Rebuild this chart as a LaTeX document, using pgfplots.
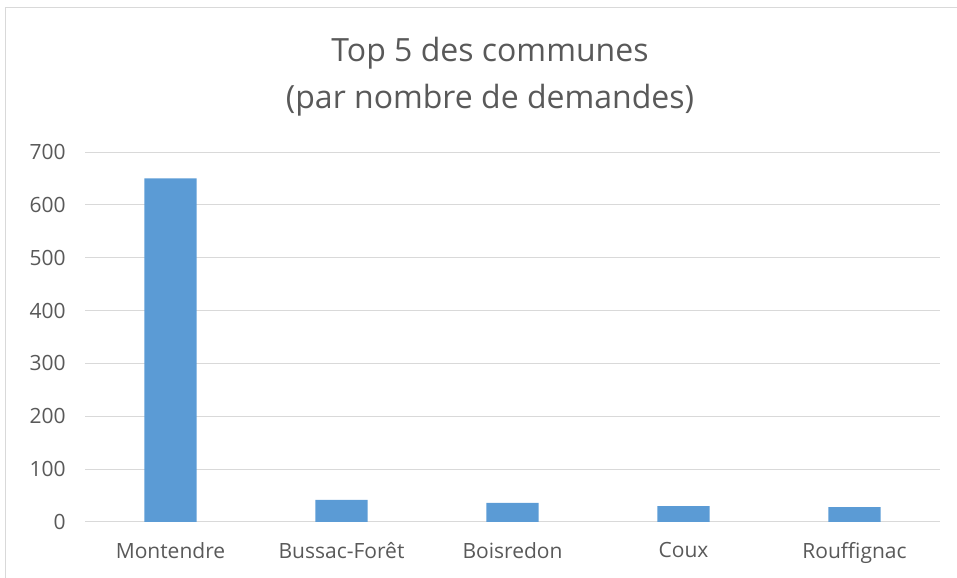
\documentclass[border=0pt]{standalone}
\usepackage{pgfplots}
\pgfplotsset{compat=1.18}
\usepackage{fontspec}
\setmainfont{Open Sans}
\definecolor{barblue}{HTML}{5B9BD5}
\definecolor{gridgray}{HTML}{D9D9D9}
\definecolor{txtgray}{HTML}{595959}
\begin{document}
\begin{tikzpicture}
\useasboundingbox (0,0) rectangle (717.75pt,433.5pt);
\draw[gridgray, line width=0.75pt] (3.75pt,0) -- (3.75pt,427.5pt) -- (717.75pt,427.5pt);
\node[anchor=base, text=txtgray, font=\fontsize{24}{28}\selectfont] at (367.5pt,387pt) {Top 5 des communes};
\node[anchor=base, text=txtgray, font=\fontsize{24}{28}\selectfont] at (367.5pt,351.75pt) {(par nombre de demandes)};
\begin{axis}[
  at={(63.75pt,42pt)}, anchor=south west,
  scale only axis, width=641.25pt, height=277.5pt,
  xmin=-0.5, xmax=4.5, ymin=0, ymax=700,
  ytick={0,100,...,700},
  xtick={0,1,2,3,4},
  xticklabels={Montendre,Bussac-Forêt,Boisredon,Coux,Rouffignac},
  axis line style={draw=none},
  major tick length=0pt,
  ymajorgrids, grid style={gridgray, line width=0.75pt},
  tick label style={text=txtgray, font=\fontsize{15.75}{18}\selectfont},
  /pgf/number format/assume math mode=true,
  yticklabel style={xshift=-11pt},
  xticklabel style={yshift=-12pt},
  clip=false,
]
\addplot[ybar, bar width=39pt, fill=barblue, draw=none] coordinates {(0,650) (1,42) (2,36) (3,30) (4,28)};
\end{axis}
\end{tikzpicture}
\end{document}
